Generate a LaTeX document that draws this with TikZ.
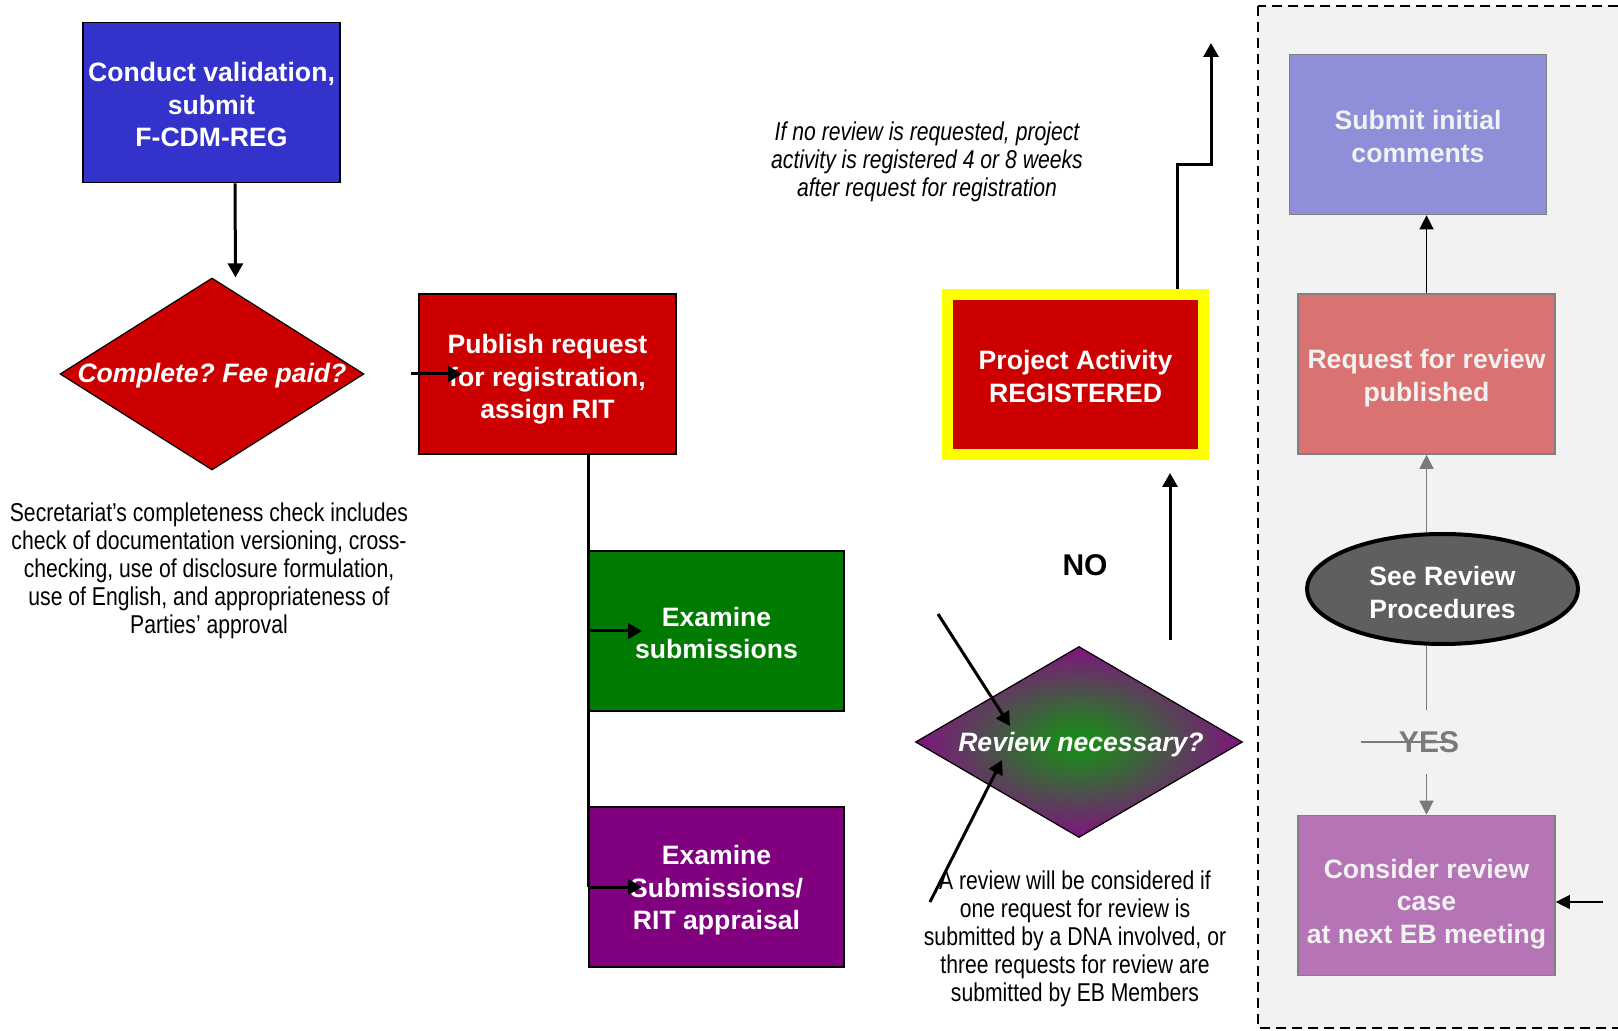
\documentclass[tikz,border=0pt]{standalone}
\usepackage{fontspec}
\setmainfont{Liberation Sans}
\newfontfamily\narrowfont[FakeStretch=0.82]{Liberation Sans}
\usetikzlibrary{arrows.meta, positioning, shapes.geometric}

\definecolor{valblue}{HTML}{3333CC}
\definecolor{chkred}{HTML}{CC0000}
\definecolor{exgreen}{HTML}{007A00}
\definecolor{expurple}{HTML}{800080}
\definecolor{regyellow}{HTML}{FFFF00}
\definecolor{revgreen}{HTML}{1E861E}
\definecolor{revpurple}{HTML}{80147F}
\definecolor{panelgray}{HTML}{F2F2F2}
\definecolor{boxgray}{HTML}{808080}
\definecolor{lighttext}{HTML}{F2F2F2}
\definecolor{cmtblue}{HTML}{8F8FD9}
\definecolor{reqsalmon}{HTML}{DB7272}
\definecolor{cnsorchid}{HTML}{B574B5}
\definecolor{procgray}{HTML}{5F5F5F}
\definecolor{yesgray}{HTML}{7A7A7A}

\pgfdeclareradialshading{reviewshade}{\pgfpoint{0bp}{0bp}}{color(0bp)=(revgreen); color(3bp)=(revgreen); color(25bp)=(revpurple); color(50bp)=(revpurple)}

\newcommand{\boxfont}{\fontsize{13.3}{16.25}\selectfont\bfseries}
\newcommand{\notefont}{\narrowfont\fontsize{12.9}{14}\selectfont}
% taller first line pushes box text down a little
\newcommand{\boxstrut}[1]{\rule{0pt}{#1}}
\frenchspacing

\begin{document}
\begin{tikzpicture}[x=0.5pt, y=-0.5pt, >={Triangle[length=7pt,width=7.5pt]},
    box/.style={rectangle, draw=black, line width=0.8pt, minimum width=128.5pt,
      minimum height=80pt, inner sep=0pt, text=white, align=center, font=\boxfont},
    pbox/.style={box, draw=boxgray, text=lighttext},
    decision/.style={diamond, draw=black, line width=0.6pt, inner sep=0pt},
    dtext/.style={text=white, font=\boxfont\itshape},
    note/.style={align=center, font=\notefont},
    arr/.style={->, line width=1.5pt},
    thinarr/.style={-{Triangle[length=7pt,width=7pt]}, line width=0.6pt},
    grayline/.style={draw=yesgray, line width=0.9pt},
    bigword/.style={font=\fontsize{15}{18}\selectfont\bfseries, inner sep=0pt}]

    \useasboundingbox (0,0) rectangle (1618,1031);

    % Review panel background
    \draw[dashed, dash pattern=on 5pt off 3pt, line width=0.9pt, fill=panelgray]
      (1258,6) rectangle (1640,1028);

    % Left column
    \node[box, fill=valblue] (valid) at (211.5,102.5) {\boxstrut{12pt}Conduct validation,\\submit\\F-CDM-REG};
    \node[decision, fill=chkred, minimum width=152pt, minimum height=96pt,
      label={[dtext, yshift=-1pt]center:Complete? Fee paid?}] (complete) at (212,374) {};
    \node[note] (checknote) at (209,570.5) {Secretariat’s completeness check includes\\check of documentation versioning, cross-\\checking, use of disclosure formulation,\\use of English, and appropriateness of\\Parties’ approval};

    % Publication and examination
    \node[box, fill=chkred] (publish) at (547.5,374) {\boxstrut{15pt}Publish request\\for registration,\\assign RIT};
    \node[box, fill=exgreen, minimum width=127.5pt] (examine) at (716.5,631) {\boxstrut{11.5pt}Examine\\submissions};
    \node[box, fill=expurple, minimum width=127.5pt] (appraisal) at (716.5,887) {\boxstrut{13pt}Examine\\Submissions/\\RIT appraisal};

    % Registration
    \node[box, fill=chkred, draw=regyellow, line width=5.5pt, minimum width=128pt,
      minimum height=80pt] (registered) at (1075.5,374.5) {\boxstrut{11.5pt}Project Activity\\REGISTERED};
    \node[note, font=\notefont\itshape] (regnote) at (927,162) {If no review is requested, project\\activity is registered 4 or 8 weeks\\after request for registration};
    \node[bigword] (no) at (1085,565) {NO};

    % Review decision
    \node[decision, shading=reviewshade, minimum width=163.5pt, minimum height=95.5pt,
      label={[dtext, xshift=1pt, yshift=-1.5pt]center:Review necessary?}] (review) at (1079,742) {};
    \node[note] (revnote) at (1075,938.5) {A review will be considered if\\one request for review is\\submitted by a DNA involved, or\\three requests for review are\\submitted by EB Members};

    % Review panel
    \node[pbox, fill=cmtblue] (comments) at (1418,134.5) {\boxstrut{11.5pt}Submit initial\\comments};
    \node[pbox, fill=reqsalmon] (request) at (1426.5,374) {\boxstrut{14pt}Request for review\\published};
    \node[ellipse, draw=black, line width=2pt, fill=procgray, minimum width=135.5pt,
      minimum height=55pt, inner sep=0pt, text=white, align=center, font=\boxfont]
      (seeproc) at (1442.5,589) {\boxstrut{13pt}See Review\\Procedures};
    \node[bigword, text=yesgray, minimum height=32pt] (yes) at (1429,742) {YES};
    \node[pbox, fill=cnsorchid] (consider) at (1426.5,895.5) {\boxstrut{18pt}Consider review\\case\\at next EB meeting};

    % Free ends
    \coordinate (revin1) at (938,614);
    \coordinate (revin2) at (930,902);
    \coordinate (nostart) at (1170,640);
    \coordinate (regturn) at (1211,165);
    \coordinate (regout) at (1211,43);
    \coordinate (ebin) at (1603,902);
    \coordinate (trunk) at ([xshift=20.25pt]publish.south);

    % Main flow
    \draw[arr] ([xshift=11.75pt]valid.south) -- ([xshift=11.75pt]complete.north);
    \draw[arr] ([xshift=23pt]complete.east) -- ([xshift=22pt]publish.west);
    \draw[line width=1.5pt] (trunk) -- (trunk |- appraisal.west);
    \draw[arr] (trunk |- examine.west) -- ([xshift=27pt]examine.west);
    \draw[arr] (trunk |- appraisal.west) -- ([xshift=27pt]appraisal.west);

    % Into and out of the review decision
    \draw[arr] (revin1) -- ([xshift=-34.5pt, yshift=8pt]review.center);
    \draw[arr] (revin2) -- ([xshift=-38.5pt, yshift=-9pt]review.center);
    \draw[arr] (nostart) -- ([yshift=-6.5pt]registered.south -| nostart);
    \draw[arr] ([xshift=50.75pt]registered.north) |- (regturn) -- (regout);

    % Review panel connectors
    \draw[thinarr] (request.north) -- (request.north |- comments.south);
    \draw[thinarr, draw=yesgray, fill=yesgray] (seeproc.north -| request.south) -- (request.south);
    \draw[grayline] (seeproc.south -| consider.north) -- (yes.north -| consider.north);
    \draw[thinarr, draw=yesgray, fill=yesgray] (yes.south -| consider.north) -- (consider.north);
    \draw[grayline] ([xshift=-34pt]yes.center) -- ([xshift=10.5pt]yes.center);
    \draw[thinarr] (ebin) -- (ebin -| consider.east);

  \end{tikzpicture}
\end{document}
